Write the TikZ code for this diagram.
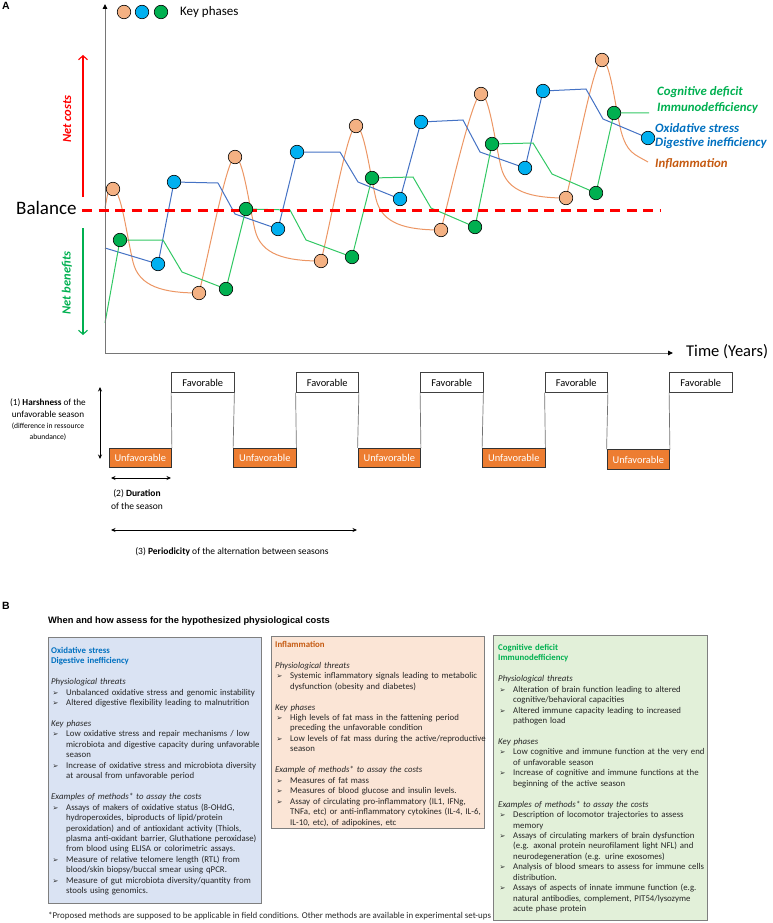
\documentclass[tikz,border=0pt]{standalone}
\usepackage{fontspec}
\setmainfont{Carlito}
\newfontfamily\arialf{Liberation Sans}
\newfontfamily\djv{DejaVu Sans}
\usetikzlibrary{arrows.meta}
\pgfdeclarelayer{bg}
\pgfsetlayers{bg,main}
\definecolor{orline}{RGB}{236,150,100}
\definecolor{orfill}{RGB}{244,177,131}
\definecolor{blfill}{RGB}{0,176,240}
\definecolor{grfill}{RGB}{0,176,80}
\definecolor{blline}{RGB}{68,114,196}
\definecolor{grline}{RGB}{50,200,100}
\definecolor{labgr}{RGB}{0,176,80}
\definecolor{labbl}{RGB}{0,112,192}
\definecolor{labor}{RGB}{197,90,17}
\definecolor{axgray}{RGB}{118,118,118}
\definecolor{unfavc}{RGB}{237,125,49}
\definecolor{boxbl}{RGB}{218,227,243}
\definecolor{boxor}{RGB}{251,229,214}
\definecolor{boxgr}{RGB}{226,240,217}
\definecolor{boxedge}{RGB}{127,127,127}
\definecolor{txt}{RGB}{38,38,38}
\newcommand\bu{\hspace*{1.5pt}\makebox[13.5pt][l]{\djv\fontsize{7}{7}\selectfont ➢}}
\newcommand\ct{\hspace*{15pt}}
\newcommand\ttlb[1]{\textcolor{labbl}{\textbf{#1}}}
\newcommand\ttlo[1]{\textcolor{labor}{\textbf{#1}}}
\newcommand\ttlg[1]{\textcolor{labgr}{\textbf{#1}}}
\begin{document}
\begin{tikzpicture}[x=1pt,y=-1pt,
 ph/.style={circle,draw=black,line width=0.6pt,minimum size=13.5pt,inner sep=0pt},
 po/.style={ph,fill=orfill}, pb/.style={ph,fill=blfill}, pg/.style={ph,fill=grfill},
 lab/.style={inner sep=0pt,anchor=west,font=\fontsize{12.8}{13}\selectfont\bfseries\itshape},
 txtnode/.style={inner sep=0pt},
 orl/.style={draw=orline,line width=1pt},
 bll/.style={draw=blline,line width=1pt},
 grl/.style={draw=grline,line width=1pt},
 axisline/.style={draw=axgray,line width=0.9pt,-{Triangle[length=5pt,width=4.5pt,color=black]}},
 favbox/.style={draw=black!75,line width=0.8pt,fill=white,minimum width=62.5pt,minimum height=19.5pt,inner sep=0pt,font=\fontsize{10.4}{11}\selectfont},
 unfavbox/.style={favbox,fill=unfavc,draw=black!80,text=white},
 wave/.style={draw=black!55,line width=0.7pt},
 dimarrow/.style={line width=0.8pt,{Stealth[length=4.5pt,width=4pt]}-{Stealth[length=4.5pt,width=4pt]}},
 panel/.style={draw=boxedge,line width=0.8pt,anchor=north west,inner sep=0pt},
 bodytxt/.style={anchor=north west,inner sep=0pt,align=left,text width=225pt,text=txt,font=\fontsize{8.8}{10.45}\selectfont},
]
\useasboundingbox (0,0) rectangle (772,923);

% ---------- Panel A ----------
\node[txtnode,anchor=west,font=\arialf\bfseries\fontsize{10.5}{11}\selectfont] (labA) at (2,6) {A};

\coordinate (orig) at (105,353);
\coordinate (ytop) at (105,4);
\coordinate (xend) at (673,353);
\draw[axisline] (orig) -- (ytop);
\draw[axisline] (orig) -- (xend);
\node[txtnode,anchor=west,font=\fontsize{16.5}{17}\selectfont] (time) at (686,352) {Time (Years)};

% legend
\node[po] (k1) at (124,12) {};
\node[pb] (k2) at (142,12) {};
\node[pg] (k3) at (161,12) {};
\node[txtnode,anchor=west,font=\fontsize{13}{14}\selectfont] (keyp) at (180,12) {Key phases};

% net costs / benefits
\coordinate (nc0) at (83,197);
\coordinate (nc1) at (83,55);
\coordinate (nb0) at (83,228);
\coordinate (nb1) at (83,335);
\draw[red,line width=1.1pt,-{Straight Barb[length=4pt,width=9pt]}] (nc0) -- (nc1);
\draw[labgr,line width=1.1pt,-{Straight Barb[length=4pt,width=9pt]}] (nb0) -- (nb1);
\node[txtnode,rotate=90,text=red,font=\fontsize{12.5}{13}\selectfont\bfseries\itshape] (netc) at (67,119) {Net costs};
\node[txtnode,rotate=90,text=labgr,font=\fontsize{12.5}{13}\selectfont\bfseries\itshape] (netb) at (67,283) {Net benefits};

% balance
\node[txtnode,anchor=west,font=\fontsize{19}{20}\selectfont] (bal) at (16,208) {Balance};
\coordinate (bal0) at (82,210.5);
\coordinate (bal1) at (660,210.5);
\draw[red,line width=2.6pt,dash pattern=on 10pt off 6.5pt] (bal0) -- (bal1);

% key-phase circles
\node[po] (o1) at (113,189) {};
\node[po] (o2) at (199,293) {};
\node[po] (o3) at (235,157) {};
\node[po] (o4) at (321,261) {};
\node[po] (o5) at (356,126) {};
\node[po] (o6) at (441,230) {};
\node[po] (o7) at (481,94) {};
\node[po] (o8) at (566,198) {};
\node[po] (o9) at (602,60) {};
\coordinate (o0) at (105,208);
\coordinate (oE) at (648,162);
\coordinate (m1) at (133,262);
\coordinate (m2) at (255,230);
\coordinate (m3) at (376,199);
\coordinate (m4) at (501,167);
\coordinate (m5) at (621,131);

\node[pb] (b1) at (158,264) {};
\node[pb] (b2) at (174,182) {};
\node[pb] (b3) at (278,229) {};
\node[pb] (b4) at (297,152) {};
\node[pb] (b5) at (400,199) {};
\node[pb] (b6) at (421,122) {};
\node[pb] (b7) at (525,168) {};
\node[pb] (b8) at (543,91) {};
\node[pb] (b9) at (648,138) {};
\coordinate (b0) at (105,248);
\coordinate (ba1) at (218,183); \coordinate (bb1) at (235,214);
\coordinate (ba2) at (340,152); \coordinate (bb2) at (358,182);
\coordinate (ba3) at (463,120); \coordinate (bb3) at (480,152);
\coordinate (ba4) at (586,89);  \coordinate (bb4) at (603,119);

\node[pg] (g1) at (120,240) {};
\node[pg] (g2) at (226,289) {};
\node[pg] (g3) at (246,209) {};
\node[pg] (g4) at (352,257) {};
\node[pg] (g5) at (372,178) {};
\node[pg] (g6) at (475,227) {};
\node[pg] (g7) at (492,144) {};
\node[pg] (g8) at (596,193) {};
\node[pg] (g9) at (614,113) {};
\coordinate (g0) at (105,323);
\coordinate (gE) at (649,113);
\coordinate (ga1) at (163,240); \coordinate (gb1) at (182,272);
\coordinate (ga2) at (290,210); \coordinate (gb2) at (306,240);
\coordinate (ga3) at (413,177); \coordinate (gb3) at (431,208);
\coordinate (ga4) at (533,143); \coordinate (gb4) at (552,174);

\begin{pgfonlayer}{bg}
\draw[orl] (o0) .. controls +(3,-14) and +(-6,0) .. (o1.center)
  .. controls +(8,0) and +(-6,-25) .. (m1)
  .. controls +(6,25) and +(-35,0) .. (o2.center)
  .. controls +(10,-40) and +(-8,0) .. (o3.center)
  .. controls +(8,0) and +(-6,-25) .. (m2)
  .. controls +(6,25) and +(-35,0) .. (o4.center)
  .. controls +(10,-40) and +(-8,0) .. (o5.center)
  .. controls +(8,0) and +(-6,-25) .. (m3)
  .. controls +(6,25) and +(-35,0) .. (o6.center)
  .. controls +(10,-40) and +(-8,0) .. (o7.center)
  .. controls +(8,0) and +(-6,-25) .. (m4)
  .. controls +(6,25) and +(-35,0) .. (o8.center)
  .. controls +(10,-40) and +(-8,0) .. (o9.center)
  .. controls +(8,0) and +(-6,-25) .. (m5)
  .. controls +(6,22) and +(-14,-8) .. (oE);
\draw[bll] (b0) -- (b1.center) -- (b2.center) -- (ba1) -- (bb1) -- (b3.center)
  -- (b4.center) -- (ba2) -- (bb2) -- (b5.center)
  -- (b6.center) -- (ba3) -- (bb3) -- (b7.center)
  -- (b8.center) -- (ba4) -- (bb4) -- (b9.center);
\draw[grl] (g0) -- (g1.center) -- (ga1) -- (gb1) -- (g2.center)
  -- (g3.center) -- (ga2) -- (gb2) -- (g4.center)
  -- (g5.center) -- (ga3) -- (gb3) -- (g6.center)
  -- (g7.center) -- (ga4) -- (gb4) -- (g8.center)
  -- (g9.center) -- (gE);
\end{pgfonlayer}

\node[lab,text=labgr] (lc1) at (657,92) {Cognitive deficit};
\node[lab,text=labgr] (lc2) at (657,108) {Immunodefficiency};
\node[lab,text=labbl] (lb1) at (655,128) {Oxidative stress};
\node[lab,text=labbl] (lb2) at (655,143) {Digestive inefficiency};
\node[lab,text=labor] (lo1) at (655,164) {Inflammation};

% ---------- seasons ----------
\foreach \i in {0,...,4}{
  \node[unfavbox] (u\i) at ({140.25+124.5*\i},{458+(\i==4?1.5:0)}) {Unfavorable};
  \node[favbox] (f\i) at ({202.75+124.5*\i},382.5) {Favorable};
}
\foreach \i in {0,...,4}{
  \draw[wave] (u\i.north east) -- (f\i.south west);
}
\foreach \i/\j in {0/1,1/2,2/3,3/4}{
  \draw[wave] (f\i.south east) -- (u\j.north west);
}
\coordinate (h0) at (100,387);
\coordinate (h1) at (100,459);
\draw[dimarrow] (h0) -- (h1);
\node[txtnode,align=center,font=\fontsize{9.2}{11.3}\selectfont] (harsh) at (48,420)
 {(1) \textbf{Harshness} of the\\unfavorable season\\{\fontsize{7.6}{11.3}\selectfont (difference in ressource}\\{\fontsize{7.6}{11.3}\selectfont abundance)}};
\coordinate (d0) at (111,478);
\coordinate (d1) at (171,478);
\draw[dimarrow] (d0) -- (d1);
\node[txtnode,align=center,font=\fontsize{9.5}{13}\selectfont] (dur) at (137,499.5) {(2) \textbf{Duration}\\of the season};
\coordinate (p0) at (111,530);
\coordinate (p1) at (357,530);
\draw[dimarrow] (p0) -- (p1);
\node[txtnode,font=\fontsize{9.5}{10}\selectfont] (per) at (232,552) {(3) \textbf{Periodicity} of the alternation between seasons};

% ---------- Panel B ----------
\node[txtnode,anchor=west,font=\arialf\bfseries\fontsize{10.5}{11}\selectfont] (labB) at (2,605.5) {B};
\node[txtnode,anchor=west,font=\arialf\bfseries\fontsize{9.3}{10}\selectfont] (btitle) at (48,621) {When and how assess for the hypothesized physiological costs};

\node[panel,fill=boxbl,minimum width=213pt,minimum height=266pt] (bxb) at (48,637) {};
\node[panel,fill=boxor,minimum width=213pt,minimum height=192pt] (bxo) at (271,636) {};
\node[panel,fill=boxgr,minimum width=214pt,minimum height=285pt] (bxg) at (493,635) {};

\node[bodytxt] (tb) at (51,647) {\ttlb{Oxidative stress}\\
\ttlb{Digestive inefficiency}\\[10.45pt]
\textit{Physiological threats}\\
\bu Unbalanced oxidative stress and genomic instability\\
\bu Altered digestive flexibility leading to malnutrition\\[10.45pt]
\textit{Key phases}\\
\bu Low oxidative stress and repair mechanisms / low\\
\ct microbiota and digestive capacity during unfavorable\\
\ct season\\
\bu Increase of oxidative stress and microbiota diversity\\
\ct at arousal from unfavorable period\\[10.45pt]
\textit{Examples of methods* to assay the costs}\\
\bu Assays of makers of oxidative status (8-OHdG,\\
\ct hydroperoxides, biproducts of lipid/protein\\
\ct peroxidation) and of antioxidant activity (Thiols,\\
\ct plasma anti-oxidant barrier, Gluthatione peroxidase)\\
\ct from blood using ELISA or colorimetric assays.\\
\bu Measure of relative telomere length (RTL) from\\
\ct blood/skin biopsy/buccal smear using qPCR.\\
\bu Measure of gut microbiota diversity/quantity from\\
\ct stools using genomics.};

\node[bodytxt] (to) at (275,641) {\ttlo{Inflammation}\\[10.45pt]
\textit{Physiological threats}\\
\bu Systemic inflammatory signals leading to metabolic\\
\ct dysfunction (obesity and diabetes)\\[10.45pt]
\textit{Key phases}\\
\bu High levels of fat mass in the fattening period\\
\ct preceding the unfavorable condition\\
\bu Low levels of fat mass during the active/reproductive\\
\ct season\\[10.45pt]
\textit{Example of methods* to assay the costs}\\
\bu Measures of fat mass\\
\bu Measures of blood glucose and insulin levels.\\
\bu Assay of circulating pro-inflammatory (IL1, IFNg,\\
\ct TNFa, etc) or anti-inflammatory cytokines (IL-4, IL-6,\\
\ct IL-10, etc), of adipokines, etc};

\node[bodytxt] (tg) at (498,644) {\ttlg{Cognitive deficit}\\
\ttlg{Immunodefficiency}\\[10.45pt]
\textit{Physiological threats}\\
\bu Alteration of brain function leading to altered\\
\ct cognitive/behavioral capacities\\
\bu Altered immune capacity leading to increased\\
\ct pathogen load\\[10.45pt]
\textit{Key phases}\\
\bu Low cognitive and immune function at the very end\\
\ct of unfavorable season\\
\bu Increase of cognitive and immune functions at the\\
\ct beginning of the active season\\[10.45pt]
\textit{Examples of methods* to assay the costs}\\
\bu Description of locomotor trajectories to assess\\
\ct memory\\
\bu Assays of circulating markers of brain dysfunction\\
\ct (e.g. axonal protein neurofilament light NFL) and\\
\ct neurodegeneration (e.g. urine exosomes)\\
\bu Analysis of blood smears to assess for immune cells\\
\ct distribution.\\
\bu Assays of aspects of innate immune function (e.g.\\
\ct natural antibodies, complement, PIT54/lysozyme\\
\ct acute phase protein};

\node[txtnode,anchor=west,text=txt,font=\fontsize{8.9}{10}\selectfont] (foot) at (48,916) {*Proposed methods are supposed to be applicable in field conditions. Other methods are available in experimental set-ups};
\end{tikzpicture}
\end{document}
